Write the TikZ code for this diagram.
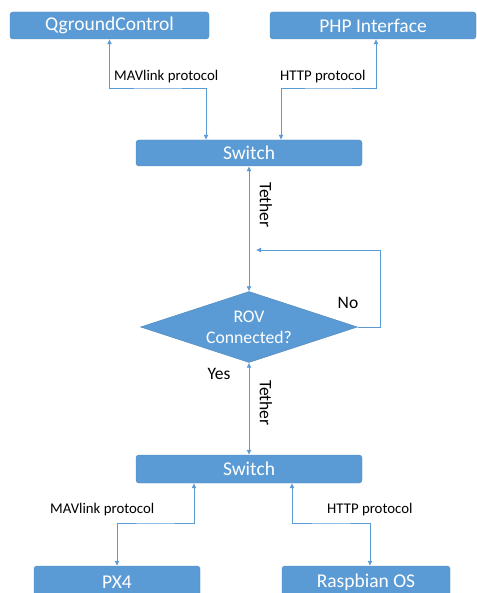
\documentclass[tikz,border=0pt]{standalone}
\usepackage{fontspec}
\setmainfont{Carlito}
\usetikzlibrary{shapes.geometric,arrows.meta}
\definecolor{obl}{HTML}{5B9BD5}
\tikzset{
  box/.style={draw=obl!85!black, line width=0.4pt, fill=obl, rounded corners=3pt, text=white, font=\fontsize{19.5}{22}\selectfont, inner sep=0pt},
  lab/.style={font=\fontsize{14.8}{17}\selectfont, text=black, inner sep=0pt},
  big/.style={font=\fontsize{17.5}{20}\selectfont, text=black, inner sep=0pt},
  conn/.style={draw=obl, line width=0.8pt},
  tip/.style={-{Latex[length=5pt,width=5pt]}},
  both/.style={{Latex[length=5pt,width=5pt]}-{Latex[length=5pt,width=5pt]}}
}
\begin{document}
\begin{tikzpicture}[x=1pt,y=-1pt]
\useasboundingbox (0,0) rectangle (476,593);
\node[box, minimum width=199pt, minimum height=27pt] (qgc) at (109.5,25.5) {QgroundControl};
\node[box, minimum width=206pt, minimum height=27pt] (php) at (373,25.5) {PHP Interface};
\node[box, minimum width=226pt, minimum height=26pt] (sw1) at (249,153) {Switch};
\node[diamond, draw=obl!85!black, fill=obl, text=white, inner sep=0pt, aspect=3.06, minimum width=217pt, minimum height=71pt, align=center, font=\fontsize{17.7}{21}\selectfont] (dia) at (249,327) {ROV\\Connected?};
\node[box, minimum width=226pt, minimum height=28pt] (sw2) at (249,469) {Switch};
\node[box, minimum width=166pt, minimum height=32pt] (px4) at (117,582) {PX4};
\node[box, minimum width=168pt, minimum height=32pt] (ras) at (366,582) {Raspbian OS};

\coordinate (h1) at (158,88);
\coordinate (h2) at (328,88);
\coordinate (h3) at (155,523);
\coordinate (h4) at (331,523);
\coordinate (lc) at (380,327);
\coordinate (le) at (256,250);

\draw[conn, both] (qgc.south) |- (h1) -| ([xshift=-43pt]sw1.north);
\draw[conn, both] ([xshift=3pt]php.south) |- (h2) -| ([xshift=32pt]sw1.north);
\draw[conn, both] (sw1.south) -- (dia.north);
\draw[conn, tip] (dia.east) -- (lc) |- (le);
\draw[conn, both] (dia.south) -- (sw2.north);
\draw[conn, both] ([xshift=-55pt]sw2.south) |- (h3) -| (px4.north);
\draw[conn, both] ([xshift=43pt]sw2.south) |- (h4) -| ([xshift=4pt]ras.north);

\node[lab, anchor=west] (l1) at (114,77) {MAVlink protocol};
\node[lab, anchor=west] (l2) at (280,77) {HTTP protocol};
\node[big, rotate=-90] (t1) at (266,205) {Tether};
\node[big] (no) at (348,303) {No};
\node[big] (yes) at (219,374) {Yes};
\node[big, rotate=-90] (t2) at (266,403) {Tether};
\node[lab, anchor=west] (l3) at (50,510) {MAVlink protocol};
\node[lab, anchor=west] (l4) at (327,510) {HTTP protocol};
\end{tikzpicture}
\end{document}
